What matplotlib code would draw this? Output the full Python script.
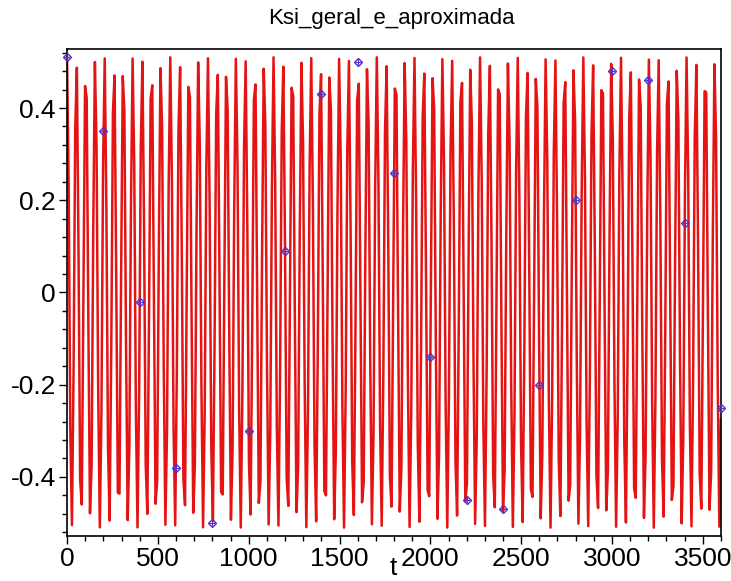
import numpy as np
import matplotlib.pyplot as plt
from matplotlib.ticker import MultipleLocator

plt.rcParams['font.family'] = ['Liberation Sans Narrow', 'Liberation Sans', 'DejaVu Sans']

# curva geral: oscilacao de amplitude e periodo
amplitude = 0.51
periodo = 51.68
t_max = 3600
n_pontos = 400

# aproximacao: pontos a cada 200
t_aprox = [0, 200, 400, 600, 800, 1000, 1200, 1400, 1600, 1800,
           2000, 2200, 2400, 2600, 2800, 3000, 3200, 3400, 3600]
ksi_aprox = [0.51, 0.35, -0.02, -0.38, -0.50, -0.30, 0.09, 0.43, 0.50, 0.26,
             -0.14, -0.45, -0.47, -0.20, 0.20, 0.48, 0.46, 0.15, -0.25]

t = np.linspace(0, t_max, n_pontos)
ksi = amplitude * np.cos(2 * np.pi * t / periodo)

fig = plt.figure(figsize=(7.31, 5.81), dpi=100)
ax = fig.add_axes([0.0917, 0.0775, 0.8946, 0.8382])

ax.plot(t, ksi, color='#e41414', lw=1.8)
ax.plot(t_aprox, ksi_aprox, ls='none', marker='D', ms=4.5, mfc='none',
        mec='#5a30c0', mew=1.0, clip_on=False, zorder=3)
ax.plot(t_aprox, ksi_aprox, ls='none', marker='+', ms=4.5,
        mec='#5a30c0', mew=0.8, clip_on=False, zorder=3)

ax.set_xlim(0, t_max)
ax.set_ylim(-0.528, 0.528)
ax.xaxis.set_major_locator(MultipleLocator(500))
ax.xaxis.set_minor_locator(MultipleLocator(100))
ax.yaxis.set_major_locator(MultipleLocator(0.2))
ax.yaxis.set_minor_locator(MultipleLocator(0.04))
ax.set_yticks([-0.4, -0.2, 0, 0.2, 0.4])
ax.set_yticklabels(['-0.4', '-0.2', '0', '0.2', '0.4'])
ax.tick_params(which='major', direction='out', length=6, width=1, labelsize=19, pad=2)
ax.tick_params(which='minor', direction='out', length=3.5, width=1)
ax.tick_params(top=False, right=False)
for s in ax.spines.values():
    s.set_linewidth(1.2)

fig.text(0.535, 0.969, 'Ksi_geral_e_aproximada', ha='center', va='center', fontsize=16)
fig.text(0.5376, 0.022, 't', ha='center', va='center', fontsize=19)

fig.savefig('out.png', dpi=100)
